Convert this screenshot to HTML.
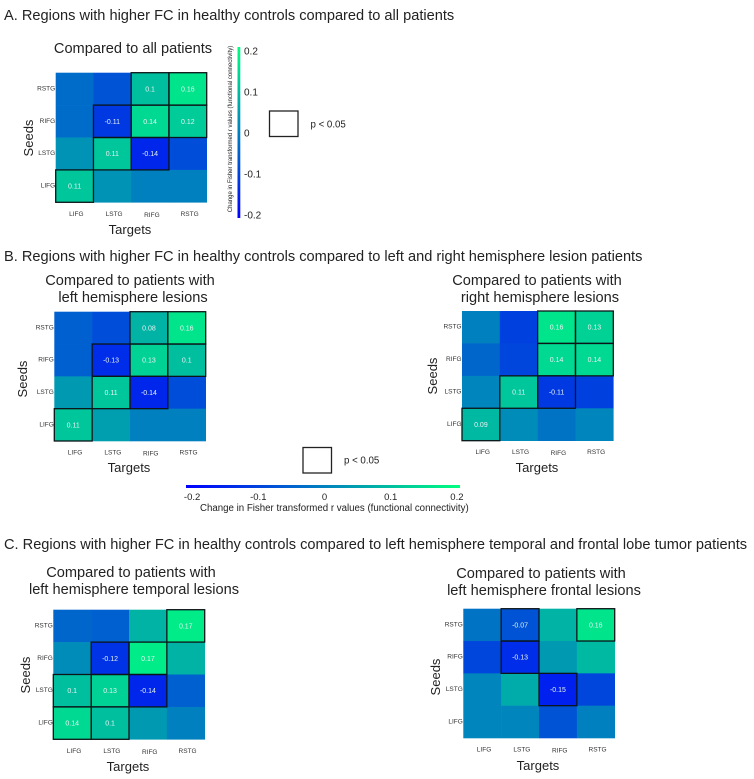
<!DOCTYPE html>
<html lang="en">
<head>
<meta charset="utf-8">
<title>Functional connectivity heatmaps</title>
<style>
html,body{margin:0;padding:0;background:#fff;width:754px;height:779px;overflow:hidden}
svg{display:block;filter:blur(0.3px)}
text{font-family:"Liberation Sans",sans-serif;fill:#222}
.h{font-size:14.6px}
.t{font-size:14.6px;text-anchor:middle}
.ax{font-size:13px;text-anchor:middle}
.p{font-size:9.7px}
</style>
</head>
<body>
<svg id="fig" xmlns="http://www.w3.org/2000/svg" width="754" height="779" viewBox="0 0 754 779">
<defs>
<linearGradient id="grad-v" x1="0" y1="1" x2="0" y2="0"></linearGradient>
<linearGradient id="grad-h" x1="0" y1="0" x2="1" y2="0"></linearGradient>
</defs>
<rect width="754" height="779" fill="#fff"/>

<text class="h" x="4" y="20">A. Regions with higher FC in healthy controls compared to all patients</text>
<text class="h" x="4" y="261">B. Regions with higher FC in healthy controls compared to left and right hemisphere lesion patients</text>
<text class="h" x="4" y="549">C. Regions with higher FC in healthy controls compared to left hemisphere temporal and frontal lobe tumor patients</text>

<text class="t" x="133" y="53">Compared to all patients</text>
<text class="t" x="130" y="285">Compared to patients with</text>
<text class="t" x="133" y="302">left hemisphere lesions</text>
<text class="t" x="537" y="285">Compared to patients with</text>
<text class="t" x="540" y="302">right hemisphere lesions</text>
<text class="t" x="131" y="577">Compared to patients with</text>
<text class="t" x="134" y="594">left hemisphere temporal lesions</text>
<text class="t" x="541" y="578">Compared to patients with</text>
<text class="t" x="544" y="595">left hemisphere frontal lesions</text>

<text class="ax" x="130" y="234">Targets</text>
<text class="ax" transform="translate(33,138) rotate(-90)">Seeds</text>
<text class="ax" x="129" y="472">Targets</text>
<text class="ax" transform="translate(27,379) rotate(-90)">Seeds</text>
<text class="ax" x="537" y="472">Targets</text>
<text class="ax" transform="translate(437,376) rotate(-90)">Seeds</text>
<text class="ax" x="128" y="771">Targets</text>
<text class="ax" transform="translate(30,675) rotate(-90)">Seeds</text>
<text class="ax" x="538" y="770">Targets</text>
<text class="ax" transform="translate(440,677) rotate(-90)">Seeds</text>

<rect x="269.5" y="111" width="28.5" height="25.5" fill="#fff" stroke="#222" stroke-width="1.3"/>
<text class="p" x="310.5" y="127.5">p &lt; 0.05</text>
<rect x="303" y="447.5" width="28.5" height="25.5" fill="#fff" stroke="#222" stroke-width="1.3"/>
<text class="p" x="344" y="463.5">p &lt; 0.05</text>

<rect x="237.5" y="47" width="2.8" height="171" fill="url(#grad-v)"/>
<text transform="translate(232,129) rotate(-90)" text-anchor="middle" style="font-size:6px">Change in Fisher transformed r values (functional connectivity)</text>
<rect x="186" y="485" width="274" height="3" fill="url(#grad-h)"/>
<text x="200" y="511" style="font-size:9.7px">Change in Fisher transformed r values (functional connectivity)</text>
</svg>

<script>
var targets = ["LIFG", "LSTG", "RIFG", "RSTG"];
var seeds = ["RSTG", "RIFG", "LSTG", "LIFG"];
var colorTicks = [0.2, 0.1, 0, -0.1, -0.2];
var colorTickLabels = ["0.2", "0.1", "0", "-0.1", "-0.2"];

var allValues = [
  [-0.03, -0.07, 0.10, 0.16],
  [-0.03, -0.11, 0.14, 0.12],
  [0.03, 0.11, -0.14, -0.08],
  [0.11, 0.03, 0.00, 0.00]
];
var allSig = [
  [0, 0, 1, 1],
  [0, 1, 1, 1],
  [0, 1, 1, 0],
  [1, 0, 0, 0]
];
var leftValues = [
  [-0.05, -0.08, 0.08, 0.16],
  [-0.05, -0.13, 0.13, 0.10],
  [0.04, 0.11, -0.14, -0.08],
  [0.11, 0.05, 0.00, 0.00]
];
var leftSig = [
  [0, 0, 1, 1],
  [0, 1, 1, 1],
  [0, 1, 1, 0],
  [1, 0, 0, 0]
];
var rightValues = [
  [0.00, -0.10, 0.16, 0.13],
  [-0.04, -0.09, 0.14, 0.14],
  [0.01, 0.11, -0.11, -0.10],
  [0.09, 0.02, -0.02, 0.01]
];
var rightSig = [
  [0, 0, 1, 1],
  [0, 0, 1, 1],
  [0, 1, 1, 0],
  [1, 0, 0, 0]
];
var temporalValues = [
  [-0.04, -0.05, 0.08, 0.17],
  [0.02, -0.12, 0.17, 0.08],
  [0.10, 0.13, -0.14, -0.05],
  [0.14, 0.10, 0.04, 0.00]
];
var temporalSig = [
  [0, 0, 0, 1],
  [0, 1, 1, 0],
  [1, 1, 1, 0],
  [1, 1, 0, 0]
];
var frontalValues = [
  [-0.02, -0.07, 0.08, 0.16],
  [-0.09, -0.13, 0.04, 0.09],
  [0.01, 0.07, -0.15, -0.09],
  [0.01, 0.01, -0.07, 0.00]
];
var frontalSig = [
  [0, 1, 0, 1],
  [0, 1, 0, 0],
  [0, 0, 1, 0],
  [0, 0, 0, 0]
];

var svg = document.getElementById('fig');
var NS = 'http://www.w3.org/2000/svg';

function make(tag, attrs, parent, txt) {
  var el = document.createElementNS(NS, tag);
  for (var k in attrs) { el.setAttribute(k, attrs[k]); }
  if (txt !== undefined) { el.textContent = txt; }
  (parent || svg).appendChild(el);
  return el;
}

function colorFor(v) {
  var t = Math.max(0, Math.min(1, (v + 0.2) / 0.4));
  var g = Math.round(255 * t);
  var b = Math.round(255 - 128 * t);
  return 'rgb(0,' + g + ',' + b + ')';
}

function fillGradient(id) {
  var grad = document.getElementById(id);
  var n = 8;
  for (var i = 0; i <= n; i++) {
    var stop = make('stop', { offset: (i / n), 'stop-color': colorFor(-0.2 + 0.4 * i / n) }, grad);
    
    
  }
}
fillGradient('grad-v');
fillGradient('grad-h');

function drawPanel(name, values, sig, x0, y0, w, h) {
  var cw = w / targets.length;
  var ch = h / seeds.length;
  function xs(c) { return x0 + c * cw; }
  function ys(r) { return y0 + r * ch; }
  var g = make('g', {});
  
  

  values.forEach(function (row, r) {
    row.forEach(function (v, c) {
      var cell = make('rect', { x: xs(c), y: ys(r), width: cw + 0.3, height: ch + 0.3, fill: colorFor(v) }, g);
      
      
    });
  });
  sig.forEach(function (row, r) {
    row.forEach(function (s, c) {
      if (!s) { return; }
      var box = make('rect', { x: xs(c), y: ys(r), width: cw, height: ch, fill: 'none', stroke: '#0c1418', 'stroke-width': 1.3 }, g);
      
      
      var lab = make('text', { x: xs(c) + cw / 2, y: ys(r) + ch / 2 + 2.5, 'text-anchor': 'middle', style: 'font-size:7px;fill:#e6f2f0' }, g, String(values[r][c]));
      
      
    });
  });
  targets.forEach(function (t, c) {
    var dy = t === 'RIFG' ? 1 : 0;
    var tick = make('text', { x: xs(c) + cw / 2 + 1.8, y: y0 + h + 13.5 + dy, 'text-anchor': 'middle', style: 'font-size:6.5px;fill:#333' }, g, t);
    
    
  });
  seeds.forEach(function (s, r) {
    var tick = make('text', { x: x0 - 0.5, y: ys(r) + ch / 2 + 1.5, 'text-anchor': 'end', style: 'font-size:6.5px;fill:#333' }, g, s);
    
    
  });
}

drawPanel('panel-all', allValues, allSig, 55.7, 72.7, 151, 129.6);
drawPanel('panel-left', leftValues, leftSig, 54.3, 311.7, 151.4, 129.3);
drawPanel('panel-right', rightValues, rightSig, 462, 311, 151.3, 129.7);
drawPanel('panel-temporal', temporalValues, temporalSig, 53.3, 609.7, 151.4, 129.6);
drawPanel('panel-frontal', frontalValues, frontalSig, 463.3, 608.7, 151.4, 129.3);

function colorbarY(v) { return 133 - v * 410; }
function colorbarX(v) { return 324.5 + v * 662; }

colorTicks.forEach(function (v, i) {
  var a = make('text', { x: 244, y: colorbarY(v) + 3.5, style: 'font-size:10px' }, svg, colorTickLabels[i]);
  
  
  var b = make('text', { x: colorbarX(v), y: 500, 'text-anchor': 'middle', style: 'font-size:9.5px' }, svg, colorTickLabels[i]);
  
  
});
</script>
</body>
</html>
